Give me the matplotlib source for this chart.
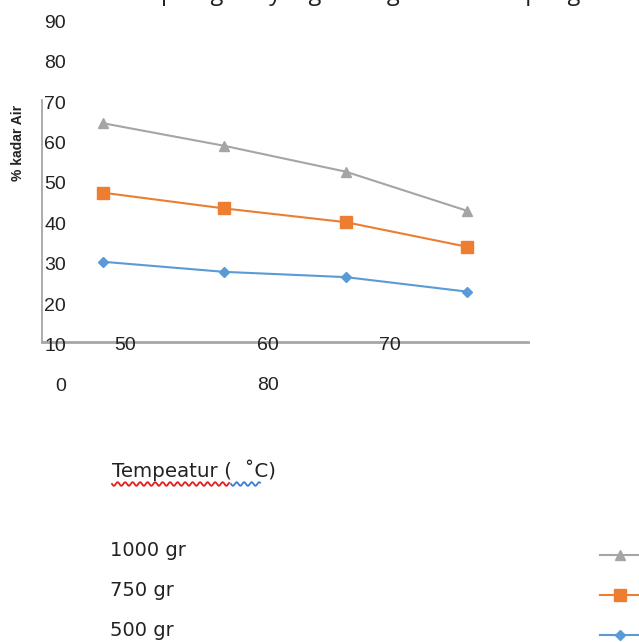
import numpy as np
import matplotlib
matplotlib.use("Agg")
import matplotlib.pyplot as plt
from matplotlib.lines import Line2D
from matplotlib.transforms import blended_transform_factory

# ---- data ----
temps = ["50", "60", "70", "80"]
series_names = ["1000 gr", "750 gr", "500 gr"]
kadar_1000 = [65.3, 59.7, 53.3, 43.6]
kadar_750 = [48.1, 44.2, 40.8, 34.7]
kadar_500 = [31.0, 28.5, 27.2, 23.6]
y_ticks = [90, 80, 70, 60, 50, 40, 30, 20, 10, 0]

colors = {"1000 gr": "#A5A5A5", "750 gr": "#ED7D31", "500 gr": "#5B9BD5"}
markers = {"1000 gr": "^", "750 gr": "s", "500 gr": "D"}
msizes = {"1000 gr": 6.5, "750 gr": 8, "500 gr": 5}

W, H = 639, 642
fig = plt.figure(figsize=(W / 100, H / 100), dpi=100)
fig.patch.set_facecolor("white")

def fx(px):
    return px / W

def fy(py):
    return 1 - py / H

NUM_FONT = ["Liberation Sans", "DejaVu Sans"]
TXT_FONT = ["DejaVu Sans"]

# axes spanning pixel box
L, R, T, B = 42, 528, 100, 342
ax = fig.add_axes([fx(L), fy(B), fx(R) - fx(L), fy(T) - fy(B)])
ax.set_xlim(-0.5, 3.5)
ax.set_ylim((387 - B) / 4.04, (387 - T) / 4.04)
for s in ["top", "right"]:
    ax.spines[s].set_visible(False)
ax.spines["left"].set_color("#A6A6A6")
ax.spines["left"].set_linewidth(1.3)
ax.spines["bottom"].set_color("#A6A6A6")
ax.spines["bottom"].set_linewidth(2.0)
ax.set_xticks([])
ax.set_yticks([])
ax.patch.set_alpha(0)

xs = np.arange(len(temps))
for name, vals in zip(series_names, [kadar_1000, kadar_750, kadar_500]):
    ax.plot(xs, vals, color=colors[name], lw=1.5, marker=markers[name],
            ms=msizes[name], mec=colors[name], mfc=colors[name], clip_on=False)

# y tick labels (right aligned at x=66 px), data positions
tr = blended_transform_factory(fig.transFigure, ax.transData)
for v in y_ticks:
    ax.text(fx(66), v, str(v), transform=tr, ha="right", va="center",
            fontsize=14, family=NUM_FONT, color="#222222", clip_on=False)

# misplaced x tick labels
xlab_pos = [(125, 346), (268, 346), (390, 346), (268, 386)]
for lab, (px, py) in zip(temps, xlab_pos):
    fig.text(fx(px), fy(py), lab, ha="center", va="center", fontsize=14,
             family=NUM_FONT, color="#222222")

# y axis title
fig.text(fx(18), fy(143), "% kadar Air", rotation=90, ha="center", va="center",
         fontsize=10, family=NUM_FONT, color="#222222", fontweight="bold")

# clipped title at top (only descenders visible)
TITLE_FONT = ["Open Sans", "DejaVu Sans"]
fig.text(fx(161), fy(0.5), "Grafik kadar air ", ha="right", va="baseline",
         fontsize=17, family=TITLE_FONT, color="#222222")
fig.text(fx(161), fy(0.5), "pun gulai yang enak gurih dan di pengaruh",
         ha="left", va="baseline", fontsize=17, family=TITLE_FONT,
         color="#222222")

# x axis title with wavy underlines
fig.text(fx(112), fy(470), "Tempeatur (  \u02daC)", ha="left", va="center",
         fontsize=14.3, family=TXT_FONT, color="#222222")
def wavy(x0, x1, y, color):
    xx = np.linspace(x0, x1, 200)
    yy = y + 1.8 * np.sin((xx - x0) / 7.5 * 2 * np.pi)
    fig.add_artist(Line2D(fx(xx), fy(yy), color=color, lw=1.3,
                          transform=fig.transFigure))
wavy(112, 229, 484, "#E02020")
wavy(231, 260, 484, "#3B7BD8")

# legend (broken layout)
leg_y = [550, 590, 630]
for name, py in zip(series_names, leg_y):
    fig.text(fx(110), fy(py), name, ha="left", va="center", fontsize=14,
             family=TXT_FONT, color="#222222")
    fig.add_artist(Line2D([fx(600), fx(645)], [fy(py + 5), fy(py + 5)],
                          color=colors[name], lw=1.5, transform=fig.transFigure))
    fig.add_artist(Line2D([fx(620)], [fy(py + 5)], marker=markers[name],
                          ms=msizes[name], color=colors[name], lw=0,
                          transform=fig.transFigure))

fig.savefig("out.png", dpi=100, facecolor="white")
